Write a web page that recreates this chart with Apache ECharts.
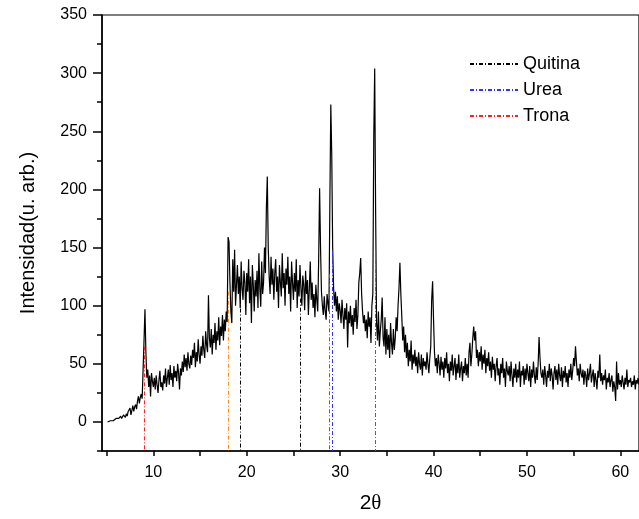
<!DOCTYPE html>
<html>
<head>
<meta charset="utf-8">
<script src="https://cdn.jsdelivr.net/npm/echarts@6/dist/echarts.min.js"></script>
<style>html,body{margin:0;padding:0;background:#fff;}#c{width:639px;height:519px;}</style>
</head>
<body>
<div id="c"></div>
<script>
// ---- data ----
const twoThetaStart = 5.1;
const twoThetaStep = 0.1;
const intensity = [
  0,1,0,1,2,1,1,2,1,3,
  2,4,3,2,5,3,4,6,5,4,
  7,5,9,8,12,6,10,14,9,13,
  15,11,18,22,16,21,24,20,45,70,
  97,60,38,45,30,40,22,42,35,30,
  38,28,40,32,25,36,44,30,34,27,
  40,33,46,30,38,45,32,49,36,42,
  30,48,38,44,35,50,42,28,46,40,
  52,43,58,47,55,44,60,50,46,57,
  49,62,55,68,47,60,52,71,58,50,
  65,57,74,62,55,78,66,60,109,72,
  64,80,58,75,68,85,62,78,70,90,
  66,82,74,92,70,88,78,95,86,159,
  155,120,95,85,140,112,148,100,118,135,
  110,125,98,138,115,105,130,120,92,128,
  112,140,102,125,85,135,118,95,122,108,
  130,98,145,115,99,138,110,120,150,128,
  184,211,150,125,110,142,118,132,105,128,
  140,112,125,98,135,120,108,145,115,128,
  100,132,118,142,110,125,95,138,120,105,
  128,112,140,98,122,108,135,115,100,126,
  118,96,130,110,122,92,115,138,105,120,
  98,110,90,118,105,95,140,201,150,112,
  100,92,108,95,88,110,102,95,190,273,
  230,150,115,100,112,95,108,88,102,96,
  85,105,92,80,98,88,102,64,95,85,
  100,82,92,75,98,86,105,80,92,120,
  128,141,110,95,85,92,78,88,72,95,
  82,90,68,100,110,245,304,180,85,70,
  95,65,78,88,107,72,65,90,58,80,
  62,75,55,85,68,58,80,62,72,90,
  78,100,115,137,110,91,70,82,60,75,
  55,68,48,62,52,70,45,58,50,62,
  48,56,42,60,50,45,58,40,55,48,
  52,45,60,50,42,55,65,105,121,88,
  60,48,55,42,58,50,40,56,45,52,
  38,55,46,60,42,50,35,52,44,58,
  40,48,55,36,50,42,58,38,46,52,
  35,48,42,55,40,50,38,60,68,48,
  58,72,82,70,78,55,62,48,60,52,
  65,45,58,50,62,42,55,48,60,44,
  52,38,56,45,50,35,48,55,40,46,
  32,50,42,55,38,46,30,52,44,40,
  48,35,52,40,30,46,38,50,34,45,
  38,52,30,44,40,48,32,46,36,50,
  42,35,48,30,45,38,52,40,33,47,
  36,50,73,55,42,38,45,32,48,40,
  30,44,38,50,35,46,40,28,42,48,
  36,45,32,50,40,35,47,30,44,38,
  48,34,42,30,45,38,50,36,44,55,
  48,65,52,40,46,35,50,42,38,45,
  32,44,40,30,46,36,42,50,34,40,
  45,30,42,36,28,44,38,58,35,42,
  32,40,36,45,28,38,34,42,30,36,
  40,26,35,30,18,52,28,42,32,36,
  30,40,34,28,38,32,45,30,36,34,
  38,30,35,32,40,28,36,33,38,32
];

const quitinaPos = [19.3, 25.7];
const quitinaTop = [113, 106];
const ureaPos = [29.2];
const ureaTop = [147];
const tronaPos = [9.0, 28.85, 33.76];
const tronaTop = [65, 127, 147];
const extraPos = [18.07];
const extraTop = [112];

const peakLabels = ['(020)', '(003)', '(003)'];
const peakLabelX = [9.1, 19.1, 25.4];
const peakLabelY = [105, 172, 161];

const xTicks = [5,10,15,20,25,30,35,40,45,50,55,60];
const xTickLabels = [10,20,30,40,50,60];
const yTickLabels = [0,50,100,150,200,250,300,350];

const xMin = 4.5, xMax = 62, yMin = -25, yMax = 350;

// ---- chart ----
const FONT = '"Liberation Sans", Arial, sans-serif';
const dashDot = [4, 2, 1, 2];
const curve = intensity.map((v, i) => [+(twoThetaStart + i * twoThetaStep).toFixed(2), v]);

function refLines(pos, top) {
  return pos.map((x, i) => [{coord: [x, top[i]]}, {coord: [x, yMin]}]);
}
function refSeries(name, color, pos, top) {
  return {
    name: name, type: 'line', data: [], symbol: 'none', showSymbol: false, z: 5,
    lineStyle: {color: color, width: 1, type: dashDot},
    itemStyle: {color: color},
    markLine: {
      symbol: 'none', silent: true, animation: false,
      label: {show: false},
      lineStyle: {color: color, width: 1, type: dashDot},
      data: refLines(pos, top)
    }
  };
}

const chart = echarts.init(document.getElementById('c'), null, {renderer: 'canvas'});
chart.setOption({
  animation: false,
  backgroundColor: '#fff',
  textStyle: {fontFamily: FONT},
  grid: {left: 102, right: -9, top: 15, bottom: 68, show: true, borderColor: '#000', borderWidth: 1.2},
  legend: {
    data: ['Quitina', 'Urea', 'Trona'],
    orient: 'vertical', left: 469, top: 55, padding: 0,
    itemWidth: 48, itemHeight: 18, itemGap: 8,
    itemStyle: {opacity: 0},
    textStyle: {fontSize: 18, color: '#000', fontFamily: FONT}
  },
  xAxis: {
    type: 'value', min: xMin, max: xMax,
    axisLine: {show: true, onZero: false, lineStyle: {color: '#000', width: 1.5}},
    axisTick: {show: true, length: 5, customValues: xTicks, lineStyle: {color: '#000', width: 1.5}},
    axisLabel: {customValues: xTickLabels, fontSize: 16, color: '#000', margin: 14, fontFamily: FONT},
    splitLine: {show: false},
    name: '{a|2}{b|θ}', nameLocation: 'middle', nameGap: 42,
    nameTextStyle: {
      rich: {
        a: {fontSize: 21, color: '#000', fontFamily: FONT},
        b: {fontSize: 21, color: '#000', fontFamily: '"Liberation Serif", "Times New Roman", serif'}
      }
    }
  },
  yAxis: [
    {
      type: 'value', min: yMin, max: yMax, interval: 25,
      axisLine: {show: true, onZero: false, lineStyle: {color: '#000', width: 1.5}},
      axisTick: {show: true, length: 5, lineStyle: {color: '#000', width: 1.5}},
      axisLabel: {show: false},
      splitLine: {show: false}
    },
    {
      type: 'value', min: yMin, max: yMax, position: 'left',
      axisLine: {show: false},
      axisTick: {show: true, length: 9, customValues: yTickLabels, lineStyle: {color: '#000', width: 1.5}},
      axisLabel: {customValues: yTickLabels, fontSize: 16, color: '#000', margin: 15, fontFamily: FONT},
      splitLine: {show: false},
      name: 'Intensidad(u. arb.)', nameLocation: 'middle', nameGap: 64,
      nameTextStyle: {fontSize: 20, color: '#000', fontFamily: FONT}
    }
  ],
  series: [
    {
      name: 'XRD', type: 'line', data: curve, symbol: 'none', showSymbol: false, z: 3,
      lineStyle: {color: '#000', width: 1.2}, itemStyle: {color: '#000'}
    },
    refSeries('Quitina', '#000000', quitinaPos, quitinaTop),
    refSeries('Urea', '#3333ff', ureaPos, ureaTop),
    refSeries('Trona', '#ff2020', tronaPos, tronaTop),
    refSeries('ref003', '#ff8c1a', extraPos, extraTop),
    {
      name: 'labels', type: 'scatter', symbolSize: 1, z: 6,
      itemStyle: {opacity: 0},
      label: {show: true, position: 'inside', formatter: p => p.name, fontSize: 17, color: '#000', fontFamily: FONT},
      data: peakLabels.map((t, i) => ({name: t, value: [peakLabelX[i], peakLabelY[i]]}))
    }
  ]
});
</script>
</body>
</html>
